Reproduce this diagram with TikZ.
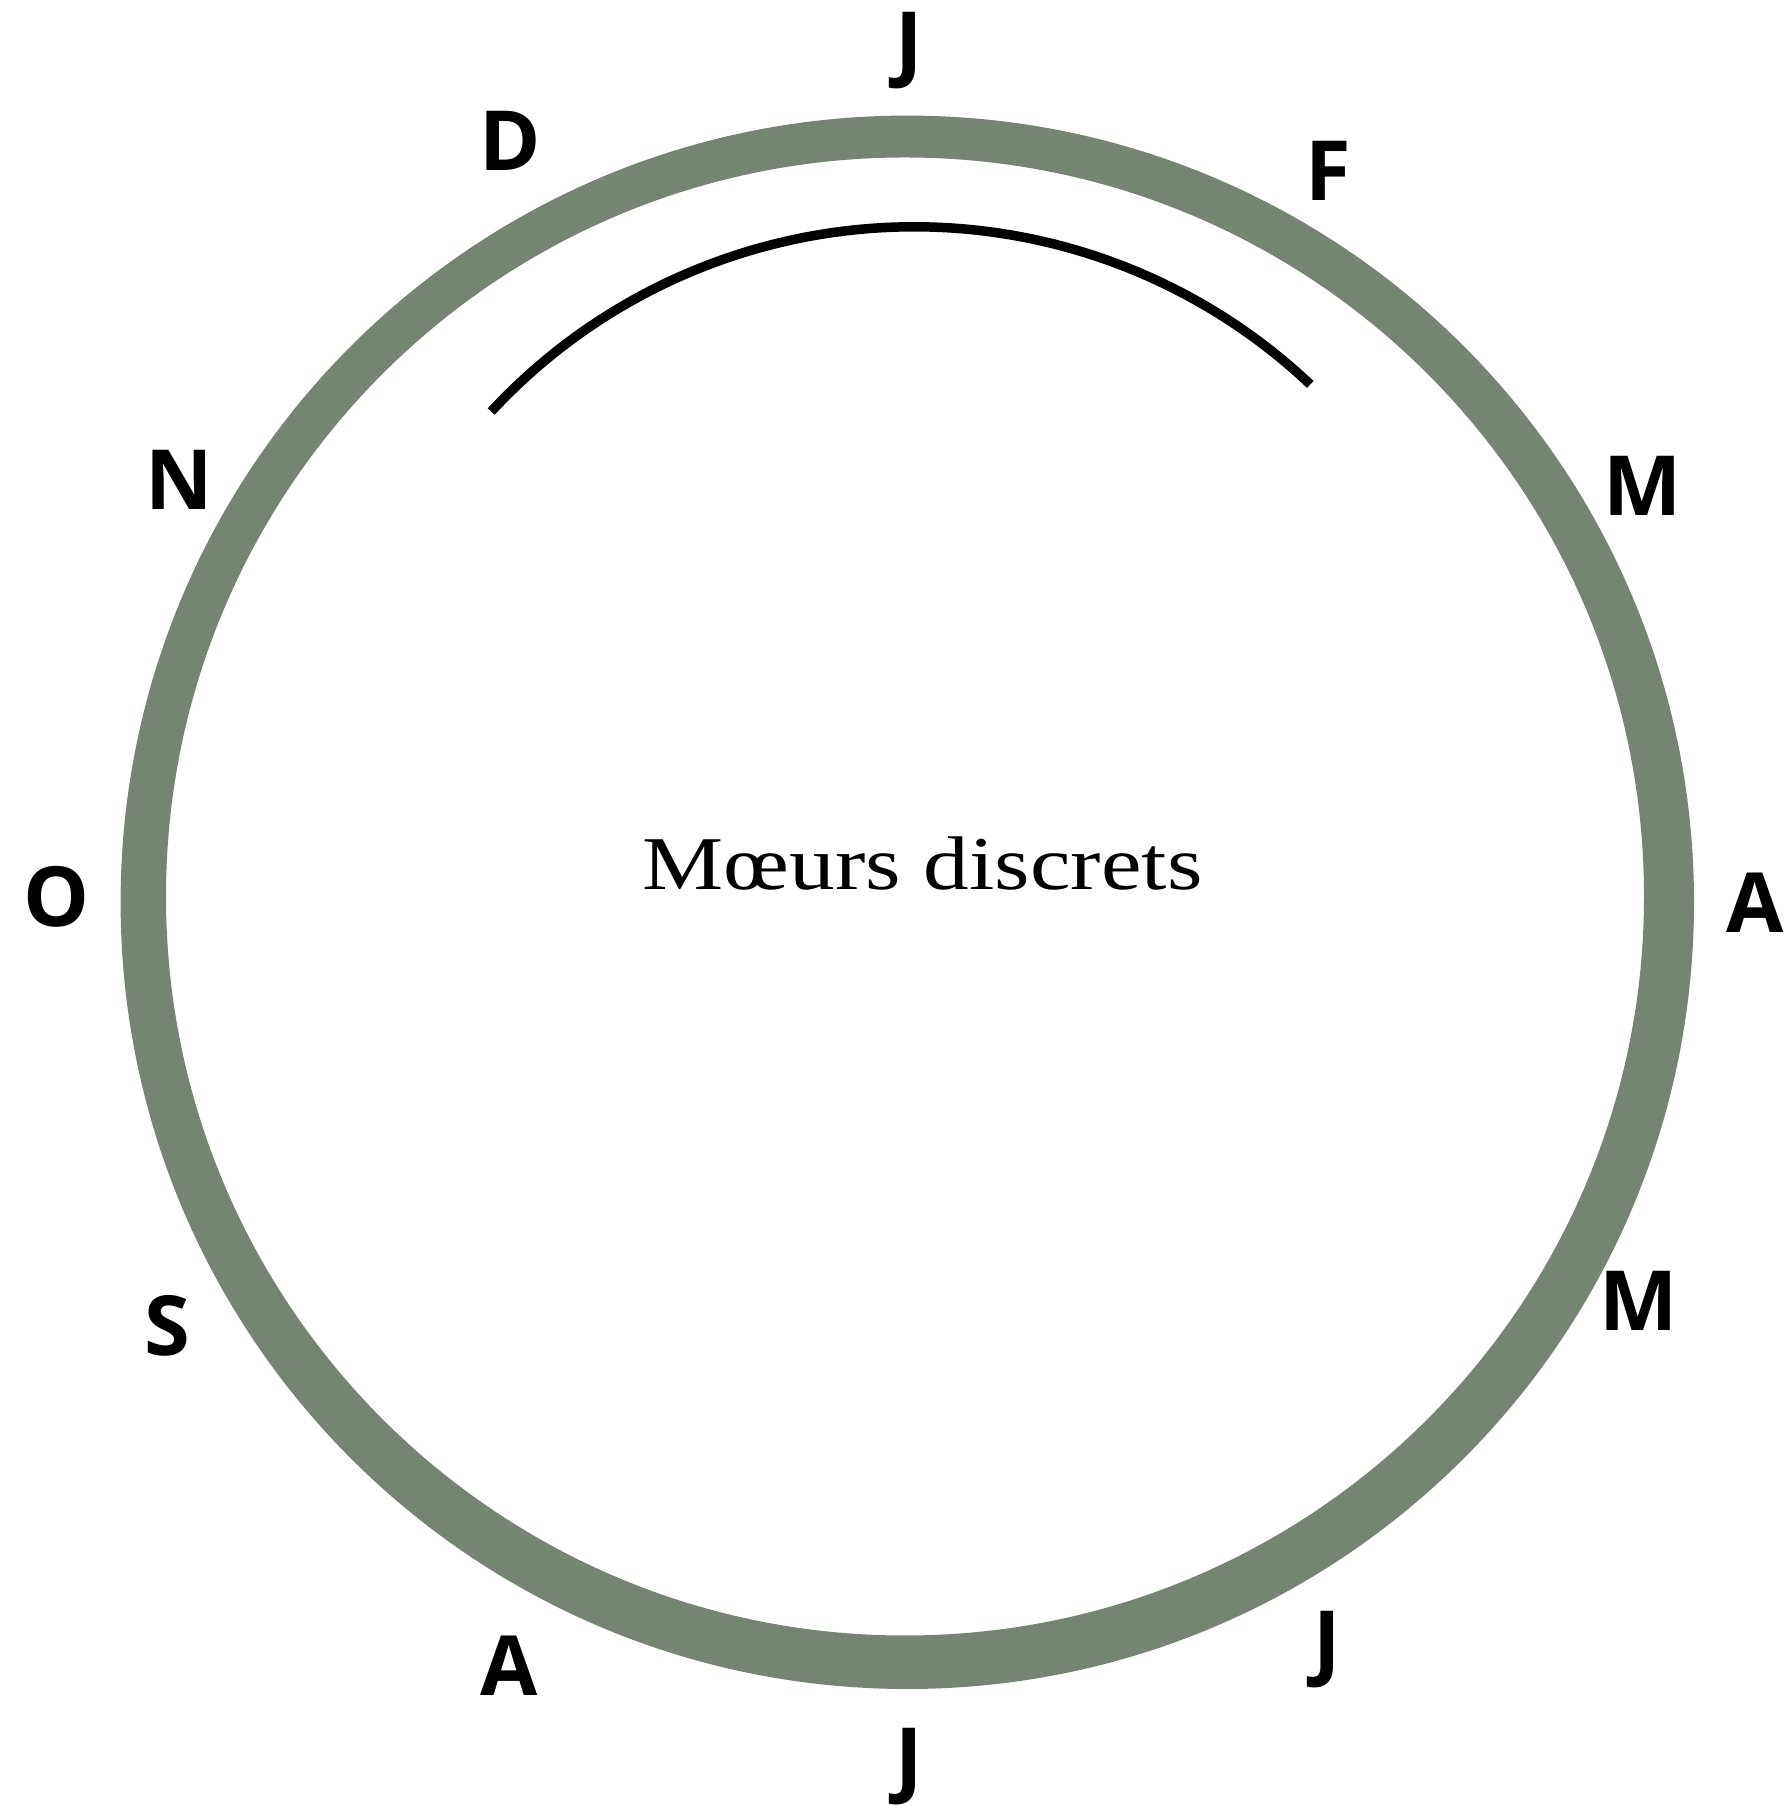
\documentclass[tikz,border=0pt]{standalone}
\usepackage{fontspec}
\newfontfamily\labfont{Open Sans}
\newfontfamily\titfont{Liberation Serif}
\definecolor{ringgreen}{RGB}{118,132,115}
\begin{document}
\begin{tikzpicture}[x=1pt,y=1pt,
  month/.style={font=\labfont\bfseries\fontsize{83}{83}\selectfont, inner sep=0pt, anchor=base, text=black},
  title/.style={font=\titfont\fontsize{76}{76}\selectfont, inner sep=0pt, anchor=base}]
\useasboundingbox (0,0) rectangle (1791,1805);
\fill[white] (0,0) rectangle (1791,1805);
% ring
\fill[ringgreen, even odd rule] (907.3,902.7) circle[radius=786.7] (905,908.5) circle[radius=739];
% arc
\coordinate (arcS) at (491.2,1393.4);
\draw[line width=9.5pt] (arcS) arc[start angle=137.2, end angle=46.6, radius=576.5];
% title
\node[title] (t) at (922.6,915.3) {\scalebox{1.2}[1]{Mœurs discrets}};
% months
\node[month] (m1) at (909,1733) {J};
\node[month] (m2) at (1328,1604.3) {F};
\node[month] (m3) at (1642.5,1289.4) {M};
\node[month] (m4) at (1755,872) {A};
\node[month] (m5) at (1638.5,474.4) {M};
\node[month] (m6) at (1327.5,134.6) {J};
\node[month] (m7) at (909,17.2) {J};
\node[month] (m8) at (509,109.5) {A};
\node[month] (m9) at (167.5,449) {S};
\node[month] (m10) at (56.5,878) {O};
\node[month] (m11) at (179.5,1295) {N};
\node[month] (m12) at (510.5,1634) {D};
\end{tikzpicture}
\end{document}
